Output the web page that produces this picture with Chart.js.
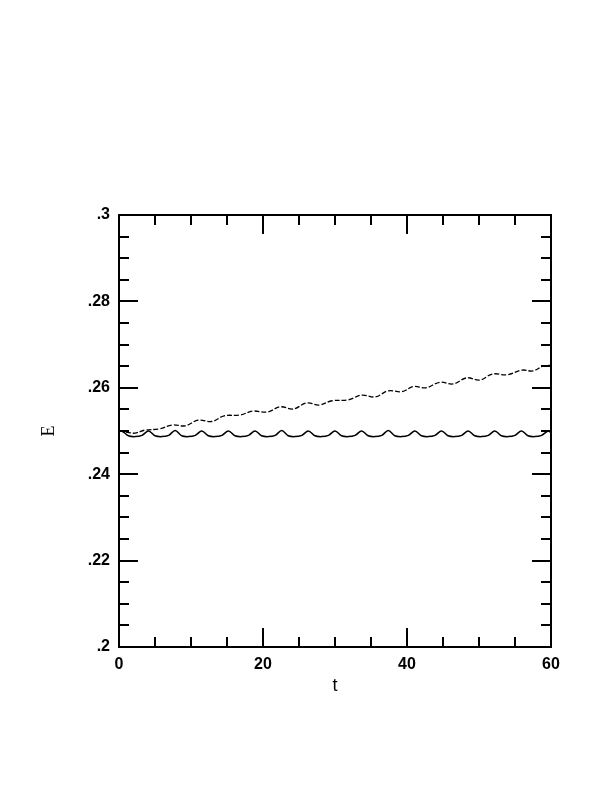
<!DOCTYPE html>
<html>
<head>
<meta charset="utf-8">
<script src="https://cdn.jsdelivr.net/npm/chart.js@4/dist/chart.umd.min.js"></script>
<style>
  html, body { margin: 0; padding: 0; background: #fff; }
  #wrap { position: absolute; left: 0; top: 0; width: 612px; height: 792px; }
</style>
</head>
<body>
<div id="wrap"><canvas id="chart" width="612" height="792"></canvas></div>
<script>
// solid curve (oscillates around .249)
const tSolid = [0, 0.4, 1.3, 2.25, 3.2, 4.1, 5.0, 5.95, 6.9, 7.8, 8.7, 9.65, 10.6, 11.5, 12.4, 13.35,
  14.3, 15.2, 16.1, 17.05, 18.0, 18.9, 19.8, 20.75, 21.7, 22.6, 23.5, 24.45, 25.4, 26.3, 27.2, 28.15,
  29.1, 30.0, 30.9, 31.85, 32.8, 33.7, 34.6, 35.55, 36.5, 37.4, 38.3, 39.25, 40.2, 41.1, 42.0, 42.95,
  43.9, 44.8, 45.7, 46.65, 47.6, 48.5, 49.4, 50.35, 51.3, 52.2, 53.1, 54.05, 55.0, 55.9, 56.8, 57.75,
  58.7, 59.6, 60];
const eSolid = [0.2499, 0.2500, 0.2489, 0.2487, 0.2490, 0.2500, 0.2489, 0.2487, 0.2490, 0.2501, 0.2489, 0.2487, 0.2490,
  0.2500, 0.2489, 0.2487, 0.2490, 0.2500, 0.2489, 0.2487, 0.2490, 0.2500, 0.2489, 0.2487, 0.2490,
  0.2501, 0.2489, 0.2487, 0.2490, 0.2500, 0.2489, 0.2487, 0.2490, 0.2500, 0.2489, 0.2487, 0.2490,
  0.2500, 0.2489, 0.2487, 0.2490, 0.2501, 0.2489, 0.2487, 0.2490, 0.2500, 0.2489, 0.2487, 0.2490,
  0.2500, 0.2489, 0.2487, 0.2490, 0.2500, 0.2489, 0.2487, 0.2490, 0.2500, 0.2489, 0.2487, 0.2490,
  0.2500, 0.2489, 0.2487, 0.2490, 0.2500, 0.2496];

// dashed curve (slowly rising)
const tDashed = [0, 1.2, 2.2, 3.6, 5.6, 7.4, 9.2, 11.0, 12.9, 14.6, 16.8, 18.6, 20.6, 22.4, 24.2, 26.1,
  27.8, 29.6, 31.8, 33.7, 35.6, 37.4, 39.3, 40.9, 42.6, 44.6, 46.4, 48.3, 50.1, 51.9, 53.9, 56.0,
  57.5, 58.9, 60];
const eDashed = [0.2500, 0.2497, 0.2495, 0.2502, 0.2505, 0.2514, 0.2512, 0.2525, 0.2522, 0.2535, 0.2537,
  0.2546, 0.2544, 0.2556, 0.2551, 0.2565, 0.2560, 0.2570, 0.2572, 0.2583, 0.2579, 0.2593, 0.2591,
  0.2603, 0.2600, 0.2613, 0.2609, 0.2623, 0.2618, 0.2632, 0.2630, 0.2641, 0.2639, 0.2650, 0.2652];

const xMajor = [0, 20, 40, 60];
const xMinor = [5, 10, 15, 25, 30, 35, 45, 50, 55];
const yMajor = [0.2, 0.22, 0.24, 0.26, 0.28, 0.3];
const yMinor = [0.205, 0.21, 0.215, 0.225, 0.23, 0.235, 0.245, 0.25, 0.255,
  0.265, 0.27, 0.275, 0.285, 0.29, 0.295];

const labelFont = { family: "'Liberation Sans', Arial, sans-serif", size: 16, weight: 'bold' };

function fmtY(v) {
  return Number(v).toFixed(2).replace(/0+$/, '').replace(/^0/, '');
}

// inward ticks on all four sides plus the frame
const frameTicks = {
  id: 'frameTicks',
  afterDatasetsDraw(chart) {
    const { ctx, chartArea: a, scales: { x, y } } = chart;
    ctx.save();
    ctx.strokeStyle = '#000';
    ctx.lineWidth = 2;
    ctx.strokeRect(a.left, a.top, a.right - a.left, a.bottom - a.top);
    ctx.beginPath();
    const xt = (vals, len) => vals.forEach(v => {
      const px = Math.round(x.getPixelForValue(v));
      ctx.moveTo(px, a.bottom); ctx.lineTo(px, a.bottom - len);
      ctx.moveTo(px, a.top); ctx.lineTo(px, a.top + len);
    });
    const yt = (vals, len) => vals.forEach(v => {
      const py = Math.round(y.getPixelForValue(v));
      ctx.moveTo(a.left, py); ctx.lineTo(a.left + len, py);
      ctx.moveTo(a.right, py); ctx.lineTo(a.right - len, py);
    });
    xt(xMajor, 19); xt(xMinor, 10);
    yt(yMajor, 19); yt(yMinor, 10);
    ctx.stroke();
    ctx.restore();
  }
};

new Chart(document.getElementById('chart'), {
  type: 'line',
  data: {
    datasets: [
      {
        data: tSolid.map((t, i) => ({ x: t, y: eSolid[i] })),
        borderColor: '#000', borderWidth: 1.5, pointRadius: 0, tension: 0.35, fill: false
      },
      {
        data: tDashed.map((t, i) => ({ x: t, y: eDashed[i] })),
        borderColor: '#000', borderWidth: 1.3, borderDash: [5, 2], pointRadius: 0, tension: 0.4, fill: false
      }
    ]
  },
  options: {
    responsive: false,
    animation: false,
    layout: { padding: { left: 38, right: 61, top: 215, bottom: 95 } },
    plugins: { legend: { display: false }, tooltip: { enabled: false } },
    scales: {
      x: {
        type: 'linear', min: 0, max: 60,
        afterBuildTicks: s => { s.ticks = xMajor.map(v => ({ value: v })); },
        afterFit: s => { s.height = 50; },
        grid: { display: false, drawTicks: false },
        border: { display: false },
        ticks: { color: '#000', font: labelFont, padding: 8, maxRotation: 0 },
        title: { display: true, text: 't', color: '#000', font: { family: "'Liberation Sans', Arial, sans-serif", size: 18 }, padding: { top: 0, bottom: 0 } }
      },
      y: {
        type: 'linear', min: 0.2, max: 0.3,
        afterBuildTicks: s => { s.ticks = yMajor.map(v => ({ value: v })); },
        afterFit: s => { s.width = 81; },
        grid: { display: false, drawTicks: false },
        border: { display: false },
        ticks: { color: '#000', font: labelFont, padding: 9, callback: v => fmtY(v) },
        title: { display: true, text: 'E', color: '#000', font: { family: "'Liberation Serif', serif", size: 18 }, padding: 0 }
      }
    }
  },
  plugins: [frameTicks]
});
</script>
</body>
</html>
